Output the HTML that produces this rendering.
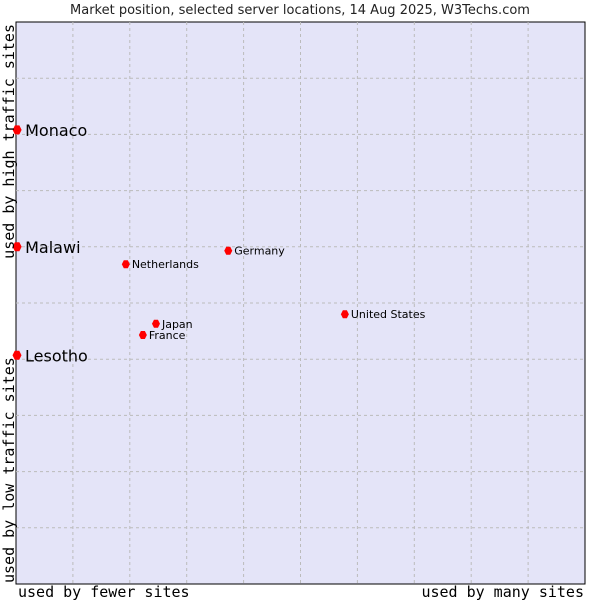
<!DOCTYPE html>
<html><head><meta charset="utf-8"><style>
body{margin:0;background:#fff;width:600px;height:600px;overflow:hidden}
svg text{font-family:"DejaVu Sans","Liberation Sans",sans-serif}
.mono{font-family:"DejaVu Sans Mono","Liberation Mono",monospace}
</style></head><body>
<svg id="chart" width="600" height="600">
<text x="300" y="14" text-anchor="middle" font-size="13" fill="#222">Market position, selected server locations, 14 Aug 2025, W3Techs.com</text>
<rect x="16" y="22" width="569" height="562" fill="#e4e4f8" stroke="#000" stroke-width="1"/>
<g id="grid"></g>
<g id="points"></g>
<text class="mono" x="18" y="597" font-size="15">used by fewer sites</text>
<text class="mono" x="584" y="597" font-size="15" text-anchor="end">used by many sites</text>
<text class="mono" transform="translate(14,583) rotate(-90)" font-size="15">used by low traffic sites</text>
<text class="mono" transform="translate(14,24) rotate(-90)" font-size="15" text-anchor="end">used by high traffic sites</text>
</svg>
<script>
const names = ["Monaco","Malawi","Lesotho","Netherlands","Germany","Japan","France","United States"];
const xVals = [0.02,0.02,0.0,1.93,3.73,2.46,2.23,5.78];
const yVals = [8.08,6.0,4.07,5.69,5.93,4.63,4.43,4.80];
const big = [true,true,true,false,false,false,false,false];
const L=16,T=22,W=569,H=562;
const xs=v=>L+v*W/10, ys=v=>T+H-v*H/10;
const ns="http://www.w3.org/2000/svg";
const g=document.getElementById('grid');
for(let i=1;i<10;i++){
  const a=document.createElementNS(ns,'line');
  
  
  a.setAttribute('x1',xs(i));a.setAttribute('x2',xs(i));a.setAttribute('y1',T);a.setAttribute('y2',T+H);
  a.setAttribute('stroke','#bbb');a.setAttribute('stroke-dasharray','3,3');g.appendChild(a);
  const b=document.createElementNS(ns,'line');
  
  
  b.setAttribute('y1',ys(i));b.setAttribute('y2',ys(i));b.setAttribute('x1',L);b.setAttribute('x2',L+W);
  b.setAttribute('stroke','#bbb');b.setAttribute('stroke-dasharray','3,3');g.appendChild(b);
}
const p=document.getElementById('points');
names.forEach((n,i)=>{
  const cx=Math.max(xs(xVals[i]),17), cy=ys(yVals[i]);
  const d=document.createElementNS(ns,'path');
  
  
  const r=big[i]?4.5:4;
  d.setAttribute('d',`M${cx-r},${cy} L${cx-r/2},${cy-r} L${cx+r/2},${cy-r} L${cx+r},${cy} L${cx+r/2},${cy+r} L${cx-r/2},${cy+r}Z`);
  d.setAttribute('fill','#f00');p.appendChild(d);
  const t=document.createElementNS(ns,'text');
  
  
  t.setAttribute('x',cx+(big[i]?8:6));t.setAttribute('y',cy+(big[i]?6:4));
  t.setAttribute('font-size',big[i]?16:11);t.textContent=n;p.appendChild(t);
});
</script>
</body></html>
